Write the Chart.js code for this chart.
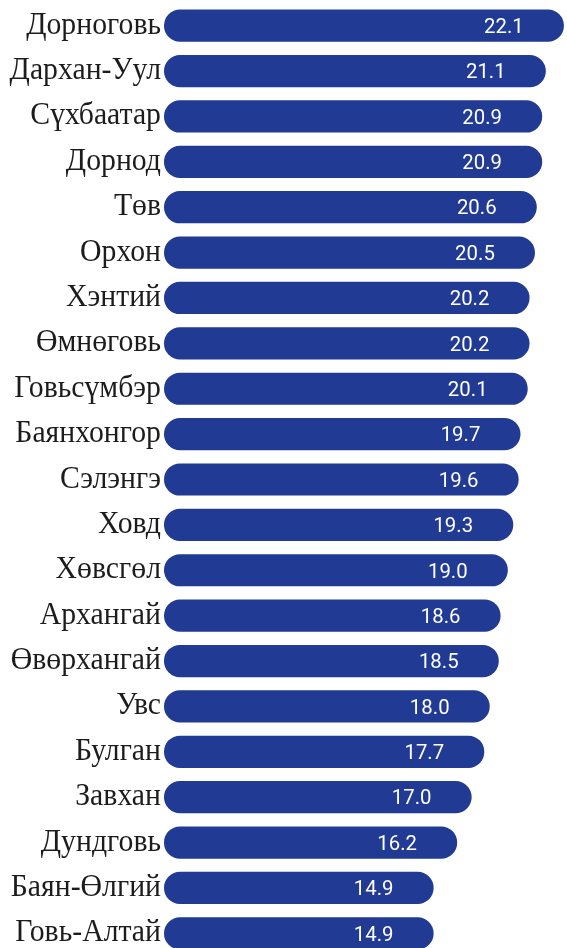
<!DOCTYPE html>
<html>
<head>
<meta charset="utf-8">
<script src="https://cdn.jsdelivr.net/npm/chart.js@4.4.0/dist/chart.umd.min.js"></script>
<style>
  html, body { margin: 0; padding: 0; background: #fff; overflow: hidden; }
  #wrap { position: relative; width: 567px; height: 956px; }
</style>
</head>
<body>
<div id="wrap"><canvas id="chart"></canvas></div>
<script>
// aimag names, top to bottom
const aimags = [
  'Дорноговь', 'Дархан-Уул', 'Сүхбаатар', 'Дорнод', 'Төв', 'Орхон', 'Хэнтий',
  'Өмнөговь', 'Говьсүмбэр', 'Баянхонгор', 'Сэлэнгэ', 'Ховд', 'Хөвсгөл',
  'Архангай', 'Өвөрхангай', 'Увс', 'Булган', 'Завхан', 'Дундговь',
  'Баян-Өлгий', 'Говь-Алтай'
];
const values = [
  22.1, 21.1, 20.9, 20.9, 20.6, 20.5, 20.2,
  20.2, 20.1, 19.7, 19.6, 19.3, 19.0,
  18.6, 18.5, 18.0, 17.7, 17.0, 16.2,
  14.9, 14.9
];

const barColor = '#213a93';

// names on the left, tall serif squeezed a little sideways
const nameLabels = {
  id: 'nameLabels',
  afterDatasetsDraw(chart) {
    const { ctx, scales: { x, y } } = chart;
    ctx.save();
    ctx.font = '31px "Liberation Serif", "DejaVu Serif", serif';
    ctx.fillStyle = '#1c1c1c';
    ctx.textAlign = 'right';
    ctx.textBaseline = 'alphabetic';
    const squeeze = 0.96;
    aimags.forEach((name, i) => {
      const py = y.getPixelForValue(i);
      ctx.save();
      ctx.translate(x.left - 3, py + 8);
      ctx.scale(squeeze, 1);
      ctx.fillText(name, 0, 0);
      ctx.restore();
    });
    ctx.restore();
  }
};

// white value near the end of each bar
const valueLabels = {
  id: 'valueLabels',
  afterDatasetsDraw(chart) {
    const { ctx } = chart;
    const meta = chart.getDatasetMeta(0);
    ctx.save();
    ctx.font = '21px Roboto, "Liberation Sans", sans-serif';
    ctx.fillStyle = '#ffffff';
    ctx.textAlign = 'center';
    ctx.textBaseline = 'middle';
    meta.data.forEach((bar, i) => {
      ctx.save();
      ctx.translate(bar.x - 60, bar.y + 2);
      ctx.scale(0.97, 1);
      ctx.fillText(values[i].toFixed(1), 0, 0);
      ctx.restore();
    });
    ctx.restore();
  }
};

new Chart(document.getElementById('chart'), {
  type: 'bar',
  data: {
    labels: aimags,
    datasets: [{
      data: values,
      backgroundColor: barColor,
      borderWidth: 0,
      borderRadius: 16,
      borderSkipped: false,
      barPercentage: 0.71,
      categoryPercentage: 1
    }]
  },
  options: {
    indexAxis: 'y',
    responsive: true,
    maintainAspectRatio: false,
    animation: false,
    layout: { padding: { left: 164, top: 3, right: 0, bottom: 0 } },
    plugins: {
      legend: { display: false },
      tooltip: { enabled: false }
    },
    scales: {
      x: {
        min: 0,
        max: 22.27,
        display: false
      },
      y: {
        display: false
      }
    }
  },
  plugins: [nameLabels, valueLabels]
});
</script>
</body>
</html>
